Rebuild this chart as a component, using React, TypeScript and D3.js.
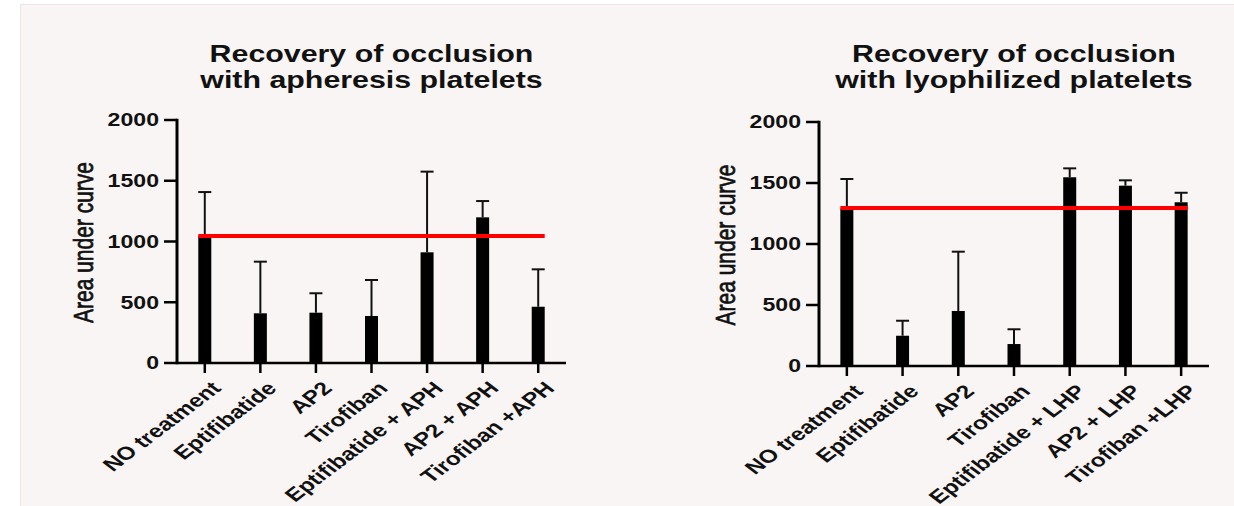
import React from "react";
import * as d3 from "d3";

// ---------- data ----------
const CATEGORIES_LEFT = [
  "NO treatment",
  "Eptifibatide",
  "AP2",
  "Tirofiban",
  "Eptifibatide + APH",
  "AP2 + APH",
  "Tirofiban +APH",
];
const CATEGORIES_RIGHT = [
  "NO treatment",
  "Eptifibatide",
  "AP2",
  "Tirofiban",
  "Eptifibatide + LHP",
  "AP2 + LHP",
  "Tirofiban +LHP",
];
const MEANS_LEFT = [1045, 409, 414, 387, 911, 1199, 463];
const SD_LEFT = [362, 425, 160, 296, 664, 134, 308];
const MEANS_RIGHT = [1290, 248, 451, 180, 1547, 1478, 1342];
const SD_RIGHT = [243, 123, 486, 121, 73, 44, 78];
const REF_LEFT = 1045;
const REF_RIGHT = 1295;
const Y_TICKS = [0, 500, 1000, 1500, 2000];
const Y_LABEL = "Area under curve";
const TITLE_LEFT = ["Recovery of occlusion", "with apheresis platelets"];
const TITLE_RIGHT = ["Recovery of occlusion", "with lyophilized platelets"];

// ---------- layout ----------
const W = 1234;
const H = 506;
const SX = 1.32; // horizontal stretch of the source picture
const FONT = "'Liberation Sans', Arial, Helvetica, sans-serif";

type Layout = { x0: number; x1: number; y0: number; yTop: number };

const LAYOUT_LEFT: Layout = { x0: 177, x1: 566, y0: 363, yTop: 120 };
const LAYOUT_RIGHT: Layout = { x0: 819, x1: 1209, y0: 366, yTop: 122 };

function Chart({
  layout,
  categories,
  means,
  sds,
  refValue,
  title,
}: {
  layout: Layout;
  categories: string[];
  means: number[];
  sds: number[];
  refValue: number;
  title: string[];
}) {
  const x = d3
    .scaleBand<string>()
    .domain(categories)
    .range([layout.x0, layout.x1])
    .padding(0);
  const y = d3.scaleLinear().domain([0, 2000]).range([layout.y0, layout.yTop]);
  const bw = 13;
  const cx = (c: string) => (x(c) as number) + x.bandwidth() / 2;
  const tickLen = 13;
  const titleX = (layout.x0 + layout.x1) / 2;
  const firstC = cx(categories[0]);
  const lastC = cx(categories[categories.length - 1]);

  return (
    <g>
      {/* title */}
      {title.map((t, i) => (
        <text
          key={i}
          transform={`translate(${titleX},${62 + i * 26}) scale(${SX},1)`}
          textAnchor="middle"
          fontFamily={FONT}
          fontWeight="bold"
          fontSize={23}
          fill="#111"
        >
          {t}
        </text>
      ))}

      {/* y label */}
      <text
        transform={`translate(${layout.x0 - 84},${(layout.y0 + layout.yTop) / 2 + 1}) scale(${SX},1) rotate(-90)`}
        textAnchor="middle"
        fontFamily={FONT}
        fontSize={21}
        fill="#111"
        stroke="#111"
        strokeWidth={0.55}
      >
        {Y_LABEL}
      </text>

      {/* bars */}
      {categories.map((c, i) => (
        <rect
          key={c}
          x={cx(c) - bw / 2}
          y={y(means[i])}
          width={bw}
          height={y(0) - y(means[i])}
          fill="#000"
        />
      ))}

      {/* error bars (upper) */}
      {categories.map((c, i) => (
        <g key={c} stroke="#111" strokeWidth={2}>
          <line x1={cx(c)} x2={cx(c)} y1={y(means[i])} y2={y(means[i] + sds[i])} />
          <line
            x1={cx(c) - bw / 2}
            x2={cx(c) + bw / 2}
            y1={y(means[i] + sds[i])}
            y2={y(means[i] + sds[i])}
          />
        </g>
      ))}

      {/* reference line */}
      <line
        x1={firstC - bw / 2}
        x2={lastC + bw / 2}
        y1={y(refValue)}
        y2={y(refValue)}
        stroke="#ff0000"
        strokeWidth={4}
      />

      {/* y axis */}
      <line
        x1={layout.x0}
        x2={layout.x0}
        y1={y(2000) - 1.25}
        y2={y(0) + 1.25}
        stroke="#000"
        strokeWidth={3}
      />
      {Y_TICKS.map((t) => (
        <g key={t}>
          <line
            x1={layout.x0 - tickLen}
            x2={layout.x0}
            y1={y(t)}
            y2={y(t)}
            stroke="#000"
            strokeWidth={2.5}
          />
          <text
            transform={`translate(${layout.x0 - tickLen - 5},${y(t)}) scale(${SX},1)`}
            textAnchor="end"
            dy="0.36em"
            fontFamily={FONT}
            fontWeight="bold"
            fontSize={17.5}
            fill="#111"
          >
            {t}
          </text>
        </g>
      ))}

      {/* x axis */}
      <line
        x1={layout.x0}
        x2={layout.x1}
        y1={y(0)}
        y2={y(0)}
        stroke="#000"
        strokeWidth={2.5}
      />
      {categories.map((c) => (
        <g key={c}>
          <line
            x1={cx(c)}
            x2={cx(c)}
            y1={y(0)}
            y2={y(0) + 10}
            stroke="#000"
            strokeWidth={2.5}
          />
          <text
            transform={`translate(${cx(c) + 5},${y(0) + 17}) scale(${SX},1) rotate(-45)`}
            textAnchor="end"
            dy="0.72em"
            fontFamily={FONT}
            fontWeight="bold"
            fontSize={18.5}
            fill="#111"
          >
            {c}
          </text>
        </g>
      ))}
    </g>
  );
}

export default function App() {
  return (
    <svg
      width={W}
      height={H}
      viewBox={`0 0 ${W} ${H}`}
      style={{ position: "absolute", left: 0, top: 0, display: "block" }}
    >
      <rect x={0} y={0} width={W} height={H} fill="#ffffff" />
      <rect x={20.5} y={4.5} width={W} height={H} fill="#faf5f5" stroke="#f1e4e4" strokeWidth={1} />
      <Chart
        layout={LAYOUT_LEFT}
        categories={CATEGORIES_LEFT}
        means={MEANS_LEFT}
        sds={SD_LEFT}
        refValue={REF_LEFT}
        title={TITLE_LEFT}
      />
      <Chart
        layout={LAYOUT_RIGHT}
        categories={CATEGORIES_RIGHT}
        means={MEANS_RIGHT}
        sds={SD_RIGHT}
        refValue={REF_RIGHT}
        title={TITLE_RIGHT}
      />
    </svg>
  );
}
